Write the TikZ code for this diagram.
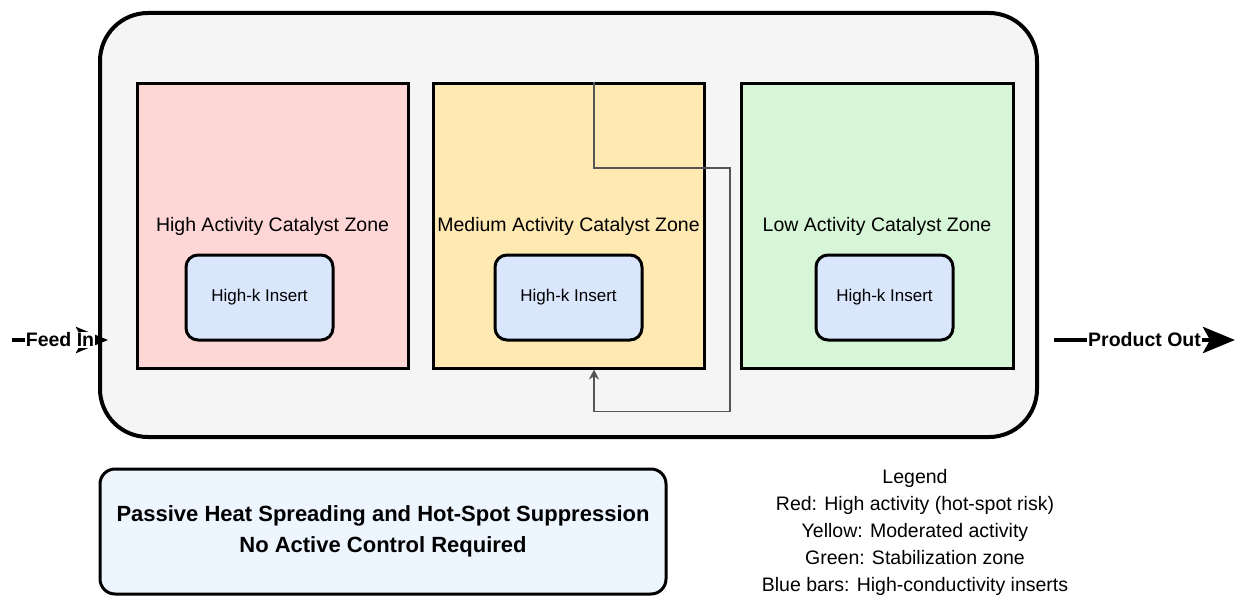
\documentclass[tikz,border=0pt]{standalone}
\usepackage{fontspec}
\setmainfont{Liberation Sans}
\usetikzlibrary{arrows.meta}

\definecolor{shell}{HTML}{F5F5F5}
\definecolor{hotred}{HTML}{FFD6D6}
\definecolor{midyellow}{HTML}{FFE9B3}
\definecolor{lowgreen}{HTML}{D7F5D7}
\definecolor{insblue}{HTML}{D9E6FC}
\definecolor{notebg}{HTML}{EDF5FF}
\definecolor{loopgray}{HTML}{555555}

\begin{document}
\begin{tikzpicture}[x=1pt, y=1pt,
	zone/.style={draw, line width=3pt, minimum width=271pt, minimum height=284pt, inner sep=0pt, font=\fontsize{19.5}{23}\selectfont},
	insert/.style={draw, line width=3pt, rounded corners=12pt, fill=insblue, minimum height=85pt, font=\fontsize{17}{20}\selectfont},
	flow/.style={line width=4.5pt, -{Stealth[length=32pt, width=26pt, inset=7pt]}},
	flowlabel/.style={fill=white, inner sep=1pt, font=\bfseries\fontsize{19.5}{23}\selectfont},
	fb/.style={draw=loopgray, line width=1.5pt, -{Stealth[length=10pt, width=10pt]}}]
	\useasboundingbox (0,0) rectangle (1238,598);

	% reactor shell and the three catalyst zones
	\node[draw, line width=4pt, rounded corners=48pt, fill=shell, minimum width=937pt, minimum height=424pt] (reactor) at (568.5,373) {};
	\node[zone, fill=hotred] (high) at (272.5,372) {High Activity Catalyst Zone};
	\node[zone, fill=midyellow] (mid) at (568.5,372) {Medium Activity Catalyst Zone};
	\node[zone, fill=lowgreen, minimum width=272pt] (low) at (877,372) {Low Activity Catalyst Zone};

	\node[insert, minimum width=147pt] (ins1) at (259.5,300.5) {High-k Insert};
	\node[insert, minimum width=147pt] (ins2) at (568.5,300.5) {High-k Insert};
	\node[insert, minimum width=137pt] (ins3) at (884.5,300.5) {High-k Insert};

	% recirculation around the middle zone
	\coordinate (bend) at (730,430);
	\draw[fb] ([xshift=25.5pt]mid.north) |- (bend) |- ([xshift=25.5pt, yshift=-42pt]mid.south) -- ([xshift=25.5pt]mid.south);

	% feed and product streams
	\coordinate (feed) at (12,258);
	\coordinate (out) at (1235,258);
	\draw[flow] (feed) -- ([xshift=10pt]feed -| reactor.west) node[midway, flowlabel] {Feed In};
	\draw[flow] ([xshift=15pt]out -| reactor.east) -- (out) node[midway, flowlabel] {Product Out};

	\node[draw, line width=3pt, rounded corners=15pt, fill=notebg, minimum width=566pt, minimum height=125pt, align=center, font=\bfseries\fontsize{22}{31}\selectfont] (note) at (383,66.5) {Passive Heat Spreading and Hot-Spot Suppression\\No Active Control Required};

	\node[align=center, font=\fontsize{19.5}{27}\selectfont] (legend) at (915,66) {Legend\\Red: High activity (hot-spot risk)\\Yellow: Moderated activity\\Green: Stabilization zone\\Blue bars: High-conductivity inserts};
\end{tikzpicture}
\end{document}
